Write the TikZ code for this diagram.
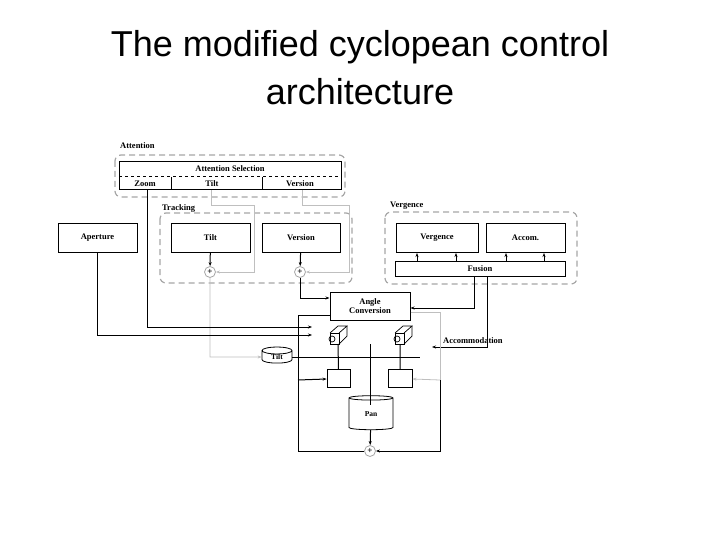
\documentclass[tikz,border=0pt]{standalone}
\usepackage{fontspec}
\setmainfont{Liberation Serif}
\newfontfamily\titlefont{Liberation Sans}
\usetikzlibrary{arrows.meta,shapes.geometric}
\begin{document}
\begin{tikzpicture}[x=1pt,y=-1pt,
  box/.style={draw,line width=1pt,inner sep=0,font=\fontsize{8.5}{9}\selectfont\bfseries},
  grp/.style={draw=gray!70,dashed,line width=1.2pt,dash pattern=on 6pt off 4pt,rounded corners=6pt},
  lab/.style={font=\fontsize{8.5}{9}\selectfont\bfseries,anchor=west,inner sep=0},
  blk/.style={line width=1pt},
  gry/.style={gray!50,line width=0.8pt},
  arr/.style={-{Stealth[length=4pt,width=3pt]}},
  plus/.style={circle,draw,gray!70,line width=0.8pt,minimum size=11pt,inner sep=0,text=black,font=\fontsize{9}{9}\selectfont\bfseries},
  cyl/.style={cylinder,shape border rotate=90,draw,line width=0.8pt,aspect=0.6,inner sep=0,font=\fontsize{7.5}{8}\selectfont\bfseries}]
\useasboundingbox (0,0) rectangle (720,540);
\node[font=\titlefont\fontsize{36}{48}\selectfont,align=center] (title) at (360,68) {The modified cyclopean control\\architecture};
% groups
\node[lab] (attl) at (120,146) {Attention};
\draw[grp] (115,155) rectangle (345,197);
\node[lab] (trkl) at (162,208) {Tracking};
\draw[grp] (160,213) rectangle (352,283);
\node[lab] (verl) at (390,206) {Vergence};
\draw[grp] (385,212) rectangle (577,284);
% attention selection
\node[box,minimum width=222pt,minimum height=28pt] (sel) at (230,176) {};
\node[font=\fontsize{8.5}{9}\selectfont\bfseries] (selt) at (230,169) {Attention Selection};
\draw[dashed,line width=1pt] (119,177) -- (341,177);
\draw[blk] (171,177) -- (171,190);
\draw[blk] (262,177) -- (262,190);
\node[font=\fontsize{8.5}{9}\selectfont\bfseries] (zoom) at (145,184) {Zoom};
\node[font=\fontsize{8.5}{9}\selectfont\bfseries] (tiltc) at (212,184) {Tilt};
\node[font=\fontsize{8.5}{9}\selectfont\bfseries] (verc) at (300,184) {Version};
% boxes
\node[box,minimum width=79pt,minimum height=28pt] (ap) at (97.5,238) {Aperture};
\node[box,minimum width=79pt,minimum height=28pt] (tt) at (210.5,238) {Tilt};
\node[box,minimum width=78pt,minimum height=28pt] (tv) at (301,238) {Version};
\node[box,minimum width=82pt,minimum height=28pt] (vv) at (437,238) {Vergence};
\node[box,minimum width=79pt,minimum height=28pt] (va) at (525.5,238) {Accom.};
\node[box,minimum width=170pt,minimum height=15pt] (fus) at (480,268.5) {Fusion};
\node[box,minimum width=80pt,minimum height=28pt,align=center,font=\fontsize{8.5}{8.5}\selectfont\bfseries] (ang) at (370,306) {Angle\\Conversion};
\foreach \x in {417,456,506,544} \draw[arr,line width=0.7pt] (\x,261) -- (\x,253);
% plus nodes
\node[plus] (p1) at (210,272) {+};
\node[plus] (p2) at (300,272) {+};
\node[plus] (p3) at (370,451) {+};
\draw[arr,blk] (tt) -- (p1);
\draw[arr,blk] (tv) -- (p2);
% gray feedback
\draw[gry,arr] (211,190) -- (211,205) -- (254,205) -- (254,272) -- (p1);
\draw[gry,arr] (302,190) -- (302,205) -- (349,205) -- (349,272) -- (p2);
% actuators
\node[cyl,minimum width=30pt,minimum height=16pt] (tiltact) at (277,357) {Tilt};
\draw[gry,arr] (p1) -- (210,357) -- (tiltact.west);
\draw[blk,arr] (p2) -- (300,298) -- (ang.west |- 0,298);
\draw[blk,arr] (474,276) -- (474,308) -- (ang.east |- 0,308);
\coordinate (accend) at (432,347);
\draw[blk,arr] (487,276) -- (487,347) -- (accend);
\node[font=\fontsize{8.5}{9}\selectfont\bfseries,anchor=west,inner sep=0] (accl) at (443,341) {Accommodation};
% cameras
\foreach \cx/\nm in {335/camL,400/camR}{
  \coordinate (\nm) at (\cx,340);
  \draw[line width=0.7pt] (\cx-5,333) rectangle (\cx+4,344);
  \draw[line width=0.7pt] (\cx-5,333) -- (\cx+3,326) -- (\cx+12,326) -- (\cx+4,333);
  \draw[line width=0.7pt] (\cx+12,326) -- (\cx+12,336) -- (\cx+4,344);
  \draw[line width=0.7pt] (\cx-3,339) circle (3pt);
}
\draw[blk,arr] (97,252) -- (97,335) -- (312,335);
\draw[blk,arr] (147,190) -- (147,327) -- (312,327);
% axis
\draw[blk] (292,357) -- (420,357);
\node[cyl,minimum width=23pt,minimum height=18pt] (cl) at (338.5,379) {};
\node[cyl,minimum width=24pt,minimum height=18pt] (cr) at (400,379) {};
\node[cyl,minimum width=44pt,minimum height=34pt,aspect=0.35] (pan) at (371,414) {Pan};
\draw[blk] (338,344) -- (cl.north);
\draw[blk] (400,344) -- (cr.north);
\draw[blk] (370,344) -- (370,405);
\draw[blk,arr] (pan) -- (p3);
% angle conversion outputs
\draw[blk] (ang.west |- 0,315) -- (298,315) -- (298,451) -- (p3);
\draw[blk,arr] (298,380) -- (cl.west);
\draw[gry] (ang.east |- 0,312) -- (440,312) -- (440,380);
\draw[gry,arr] (440,380) -- (cr.east);
\draw[blk,arr] (440,380) -- (440,451) -- (p3);
\end{tikzpicture}
\end{document}
